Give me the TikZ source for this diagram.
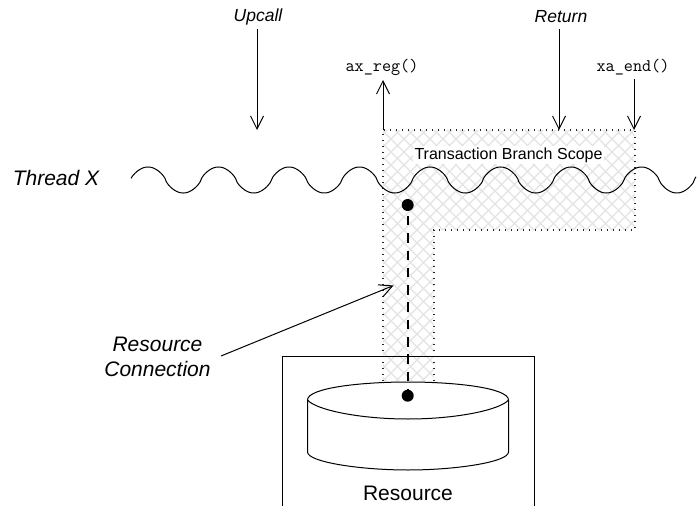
\documentclass[tikz,border=0pt]{standalone}
\usepackage{fontspec}
\setmainfont{Liberation Sans}
\usetikzlibrary{arrows.meta}
\tikzset{
  lab/.style={font=\fontsize{17.5}{21}\selectfont\itshape,inner sep=0pt},
  labbig/.style={font=\fontsize{21}{25}\selectfont\itshape,align=center,inner sep=0pt},
  thr/.style={font=\fontsize{21}{25}\selectfont\itshape,inner sep=0pt},
  res/.style={font=\fontsize{21}{25}\selectfont,inner sep=0pt},
  tb/.style={font=\fontsize{16}{19}\selectfont,fill=white,inner sep=1.5pt},
  code/.style={font=\fontsize{17.7}{20}\selectfont\ttfamily,inner sep=0pt},
  arr/.style={line width=1pt,-{Straight Barb[length=13pt,width=13pt,line width=1pt]}},
  scopeedge/.style={line width=1.2pt,dash pattern=on 1.2pt off 4.8pt,black!85},
  hatch/.style={gray!22,line width=1.2pt},
  dotnode/.style={circle,fill=black,inner sep=0pt,minimum size=12pt},
  cyl/.style={line width=1pt,fill=white},
}
\begin{document}
\begin{tikzpicture}[x=1pt,y=-1pt]
\useasboundingbox (0,0) rectangle (697,506);
% hatched scope
\begin{scope}
\clip (383,130) -- (635,130) -- (635,230) -- (434,230) -- (434,381) -- (383,381) -- cycle;
\foreach \k in {-40,...,80} {
  \draw[hatch] (300+\k*13,100) -- ++(300,300);
  \draw[hatch] (300+\k*13,100) -- ++(-300,300);
}
\end{scope}
\draw[scopeedge] (383,381) -- (383,130) -- (635,130) -- (635,230) -- (434,230) -- (434,381);
\node[tb] (tbs) at (508.5,155) {Transaction Branch Scope};
% thread
\draw[line width=1pt] plot[domain=131:696,samples=400,smooth] (\x,{180-13*sign(cos((\x-148)*5.106))*pow(abs(cos((\x-148)*5.106))+0.001,0.72)});
% resource box
\draw[line width=1pt] (282,506) -- (282,356) -- (534,356) -- (534,506);
% dots and connection: dashes pass over the box line
% cylinder
\draw[cyl] (307.5,400) .. controls (307.5,388) and (360,382) .. (408,382)
  .. controls (456,382) and (508.5,388) .. (508.5,400)
  -- (508.5,452) .. controls (508.5,462) and (456,470) .. (408,470)
  .. controls (360,470) and (307.5,462) .. (307.5,452) -- cycle;
\draw[line width=1pt] (307.5,400) .. controls (316,410) and (360,419) .. (408,419)
  .. controls (456,419) and (500,410) .. (508.5,400);
\node[res] (resource) at (408,493) {Resource};
\node[dotnode] (dota) at (407.7,205) {};
\node[dotnode] (dotb) at (407.7,395.7) {};
\draw[line width=2.4pt,dash pattern=on 9.5pt off 7.8pt,dash phase=12.6pt] (dota) -- (dotb);
% labels
\node[lab] (upcall) at (258,17) {Upcall};
\node[lab] (return) at (561,17) {Return};
\node[code] (axreg) at (382,67) {ax\_reg()};
\node[code] (xaend) at (633,67) {xa\_end()};
\node[thr] (thread) at (56,178) {Thread X};
\node[labbig] (conn) at (157.5,357) {Resource\\Connection};
% arrows
\coordinate (upstart) at (257,29);
\coordinate (upend) at (257,130);
\coordinate (retstart) at (559,29);
\coordinate (retend) at (559,130);
\coordinate (axstart) at (383,130);
\coordinate (axend) at (383,80);
\coordinate (xastart) at (634,79);
\coordinate (xaendp) at (634,130);
\coordinate (connstart) at (221,356);
\coordinate (connend) at (393.5,285.5);
\draw[arr] (upstart) -- (upend);
\draw[arr] (retstart) -- (retend);
\draw[arr] (axstart) -- (axend);
\draw[arr] (xastart) -- (xaendp);
\draw[arr] (connstart) -- (connend);
\end{tikzpicture}
\end{document}
